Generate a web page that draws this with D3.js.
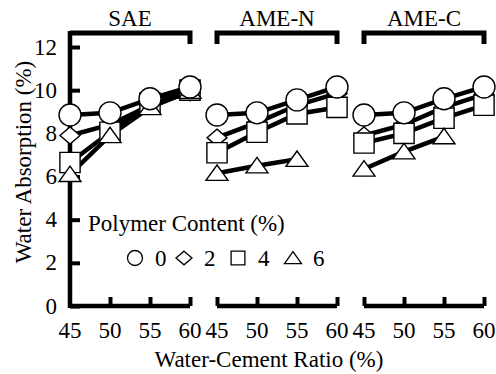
<!DOCTYPE html>
<html>
<head>
<meta charset="utf-8">
<script src="https://cdn.jsdelivr.net/npm/d3@7"></script>
</head>
<body style="margin:0">
<div id="chart"></div>
<script>
// datos
const panels = ["SAE", "AME-N", "AME-C"];
const wcRatio = [45, 50, 55, 60];
const polymerContent = [0, 2, 4, 6];
const yTicks = [0, 2, 4, 6, 8, 10, 12];

// filas: 0%, 2%, 4%, 6% de polímero
const sae = [
  [8.85, 8.95, 9.6, 10.15],
  [7.9, 8.4, 9.3, 9.9],
  [6.65, 8.05, 9.4, 10.0],
  [6.1, 7.9, 9.2, 9.95]
];
const ameN = [
  [8.85, 8.95, 9.55, 10.15],
  [7.8, 8.5, 9.3, 9.85],
  [7.1, 8.05, 8.9, 9.2],
  [6.15, 6.5, 6.8, null]
];
const ameC = [
  [8.85, 8.95, 9.6, 10.15],
  [7.9, 8.4, 9.2, 9.8],
  [7.55, 8.0, 8.7, 9.3],
  [6.35, 7.15, 7.85, null]
];
const panelData = [sae, ameN, ameC];

const width = 496, height = 374;
const panelX = [70, 217, 364];
const panelW = 120;
const fs = 23;

const svg = d3.select("#chart").append("svg")
  .attr("width", width).attr("height", height);

const x = d3.scaleLinear().domain([45, 60]).range([0, panelW]);
const y = d3.scaleLinear().domain([0, 12]).range([306, 47]);
const yTop = y(12.65);

// formas de los marcadores
function markerPath(kind, s) {
  const p = d3.path();
  if (kind === 0) { p.arc(0, 0, s, 0, 2 * Math.PI); }
  else if (kind === 1) { p.moveTo(0, -s * 0.85); p.lineTo(s, 0); p.lineTo(0, s * 0.85); p.lineTo(-s, 0); p.closePath(); }
  else if (kind === 2) { p.rect(-s * 0.92, -s * 0.92, s * 1.84, s * 1.84); }
  else { p.moveTo(0, -s * 0.75); p.lineTo(s, s * 0.65); p.lineTo(-s, s * 0.65); p.closePath(); }
  return p.toString();
}
const markerSize = [11, 10, 11, 11];
const drawOrder = [1, 2, 3, 0];

// texto serif
function label(sel) {
  return sel.style("font-family", "'Liberation Serif'").attr("font-size", fs);
}

panels.forEach((name, i) => {
  const g = svg.append("g").attr("transform", `translate(${panelX[i]},0)`);

  // eje inferior con ticks hacia dentro
  const xAxis = g.append("g").attr("transform", `translate(0,${y(0)})`)
    .call(d3.axisBottom(x).tickValues(wcRatio).tickSize(-9).tickFormat(""));
  xAxis.select(".domain").attr("d", `M0,0H${panelW}`).attr("stroke-width", 4.5);
  xAxis.selectAll(".tick line").attr("stroke-width", 4);
  if (i === 0) xAxis.selectAll(".tick").filter(d => d === 45).remove();

  // etiquetas del eje x
  g.selectAll(".xl").data(wcRatio).join("text")
    .attr("x", d => x(d)).attr("y", 338)
    .attr("text-anchor", "middle").call(label)
    .text(d => d);

  // marco superior
  g.append("path")
    .attr("d", i === 0
      ? `M0,${yTop}H${panelW}V${yTop + 11}`
      : `M0,${yTop + 11}V${yTop}H${panelW}V${yTop + 11}`)
    .attr("fill", "none").attr("stroke", "#000").attr("stroke-width", 5);

  g.append("text").attr("x", panelW / 2).attr("y", 26)
    .attr("text-anchor", "middle").call(label).text(name);

  if (i === 0) {
    const yAxis = g.append("g")
      .call(d3.axisLeft(y).tickValues(yTicks).tickSize(-10).tickFormat(""));
    yAxis.select(".domain").attr("d", `M0,${y(0) + 2}V${yTop - 2}`).attr("stroke-width", 4.5);
    yAxis.selectAll(".tick line").attr("stroke-width", 4);
    g.selectAll(".yl").data(yTicks).join("text")
      .attr("x", -13).attr("y", d => y(d)).attr("dy", "0.33em")
      .attr("text-anchor", "end").call(label).text(d => d);
  }

  const line = d3.line()
    .defined(d => d != null)
    .x((d, k) => x(wcRatio[k])).y(d => y(d));

  const rows = panelData[i];
  drawOrder.forEach(s => {
    g.append("path").attr("d", line(rows[s]))
      .attr("fill", "none").attr("stroke", "#000").attr("stroke-width", 4.5);
  });
  drawOrder.forEach(s => {
    g.selectAll(null).data(rows[s].map((v, k) => [wcRatio[k], v]).filter(d => d[1] != null))
      .join("path")
      .attr("transform", d => `translate(${x(d[0])},${y(d[1])})`)
      .attr("d", markerPath(s, markerSize[s]))
      .attr("fill", "#fff").attr("stroke", "#000").attr("stroke-width", 1.4);
  });
});

// títulos de ejes
svg.append("text")
  .attr("transform", `translate(31,162) rotate(-90)`)
  .attr("text-anchor", "middle").call(label)
  .text("Water Absorption (%)");
svg.append("text").attr("x", 269).attr("y", 367)
  .attr("text-anchor", "middle").call(label)
  .text("Water-Cement Ratio (%)");

// leyenda
svg.append("text").attr("x", 88).attr("y", 231).call(label)
  .text("Polymer Content (%)");
const legX = [135, 184, 238, 293];
const legSize = [7.5, 8, 7.5, 8.5];
const leg = svg.append("g").selectAll("g").data(polymerContent).join("g")
  .attr("transform", (d, k) => `translate(${legX[k]},258)`);
leg.append("path").attr("d", (d, k) => markerPath(k, legSize[k]))
  .attr("fill", "#fff").attr("stroke", "#000").attr("stroke-width", 1.3);
leg.append("text").attr("x", 20).attr("y", 8).call(label).text(d => d);
</script>
</body>
</html>
